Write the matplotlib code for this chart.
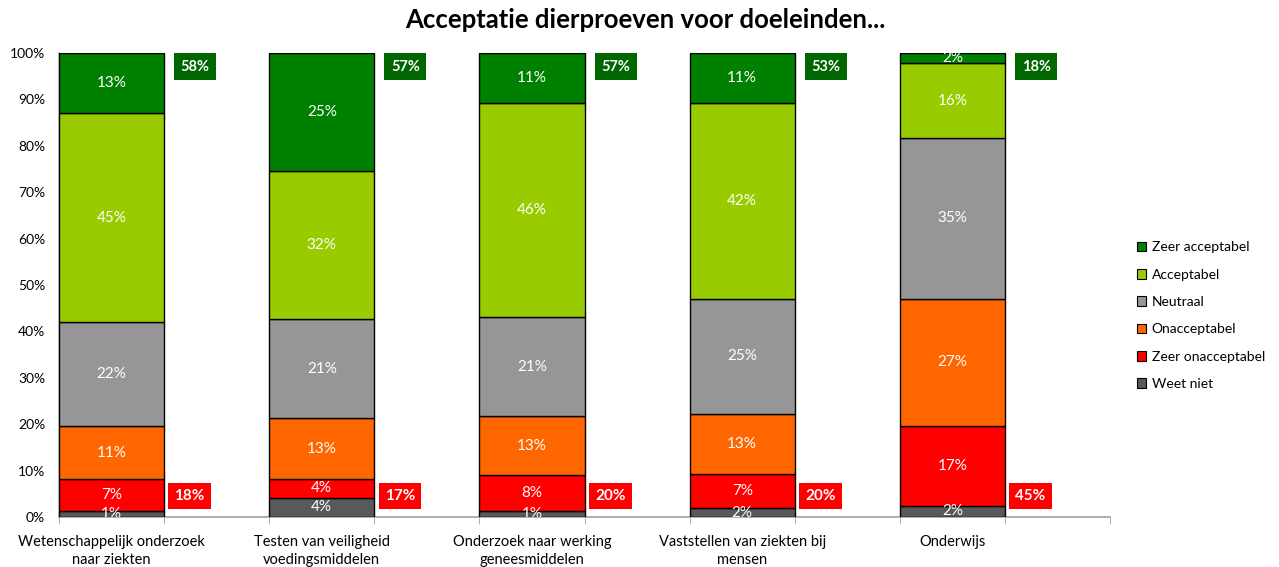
import matplotlib
matplotlib.use("Agg")
import matplotlib.pyplot as plt
import numpy as np

plt.rcParams['font.family'] = ['Lato', 'DejaVu Sans']

categories = ["Wetenschappelijk onderzoek\nnaar ziekten",
              "Testen van veiligheid\nvoedingsmiddelen",
              "Onderzoek naar werking\ngeneesmiddelen",
              "Vaststellen van ziekten bij\nmensen",
              "Onderwijs"]
series_names = ["Weet niet", "Zeer onacceptabel", "Onacceptabel",
                "Neutraal", "Acceptabel", "Zeer acceptabel"]
weet_niet = [1.4, 4.1, 1.4, 1.9, 2.4]
zeer_onacceptabel = [6.8, 4.1, 7.6, 7.4, 17.2]
onacceptabel = [11.4, 13.1, 12.7, 12.9, 27.4]
neutraal = [22.4, 21.4, 21.4, 24.8, 34.7]
acceptabel = [45.0, 31.9, 46.1, 42.2, 16.1]
zeer_acceptabel = [13.0, 25.4, 10.8, 10.8, 2.2]
colors = ["#595959", "#FF0000", "#FF6600", "#969696", "#99CC00", "#008000"]
yticks = [0, 10, 20, 30, 40, 50, 60, 70, 80, 90, 100]

series = [weet_niet, zeer_onacceptabel, onacceptabel, neutraal, acceptabel, zeer_acceptabel]

fig = plt.figure(figsize=(12.79, 5.67), dpi=100)
ax = fig.add_axes([59/1279, 1-517/567, (1110-59)/1279, (517-53)/567])

x = np.arange(len(categories))
bottom = np.zeros(len(categories))
bars = []
for name, vals, col in zip(series_names, series, colors):
    vals = np.array(vals)
    b = ax.bar(x, vals, 0.5, bottom=bottom, color=col, edgecolor="black",
               linewidth=1.0, label=name, zorder=3)
    bars.append(b)
    for xi, v, bt in zip(x, vals, bottom):
        ax.text(xi, bt + v/2, f"{v:.0f}%", ha="center", va="center",
                color="white", fontsize=11, clip_on=True, zorder=4)
    bottom = bottom + vals

accept = np.array(acceptabel) + np.array(zeer_acceptabel)
reject = np.array(onacceptabel) + np.array(zeer_onacceptabel)
for xi, a, r in zip(x, accept, reject):
    ax.annotate(f"{a:.0f}%", xy=(xi + 0.25, 97.0), xytext=(12, 0),
                textcoords="offset points", ha="left", va="center",
                color="white", fontsize=10.5, fontweight="bold",
                bbox=dict(boxstyle="square,pad=0.45", fc="#006600", ec="none"))
    ax.annotate(f"{r:.0f}%", xy=(xi + 0.25, 4.5), xytext=(7.5, 0),
                textcoords="offset points", ha="left", va="center",
                color="white", fontsize=11, fontweight="bold",
                bbox=dict(boxstyle="square,pad=0.4", fc="#FF0000", ec="none"))

ax.set_xlim(-0.25, 4.75)
ax.set_ylim(0, 100)
ax.set_yticks(yticks)
ax.set_yticklabels([f"{t}%" for t in yticks], fontsize=10)
ax.set_xticks(x)
ax.set_xticklabels(categories, fontsize=10.5, linespacing=1.35)
ax.tick_params(axis="x", length=0, pad=13)
ax.set_xticks(np.arange(-0.25, 4.8, 0.5), minor=True)
ax.tick_params(axis="x", which="minor", length=5, color="#A0A0A0", direction="out")
ax.tick_params(axis="y", length=0, pad=10)
for s in ["top", "right"]:
    ax.spines[s].set_visible(False)
for s in ["left", "bottom"]:
    ax.spines[s].set_color("#A0A0A0")
    ax.spines[s].set_linewidth(1.2)

handles = bars[::-1]
leg = fig.legend(handles, series_names[::-1], loc="upper left",
                 bbox_to_anchor=(1124/1279, 1-229/567), frameon=False,
                 fontsize=10, handlelength=0.7, handleheight=0.7,
                 labelspacing=1.1, handletextpad=0.4)
for h in leg.legend_handles:
    h.set_linewidth(0.8)

fig.text(645/1279, 1-20/567, "Acceptatie dierproeven voor doeleinden...",
         ha="center", va="center", fontsize=18.5, fontweight="bold")

fig.savefig("out.png", dpi=100)
